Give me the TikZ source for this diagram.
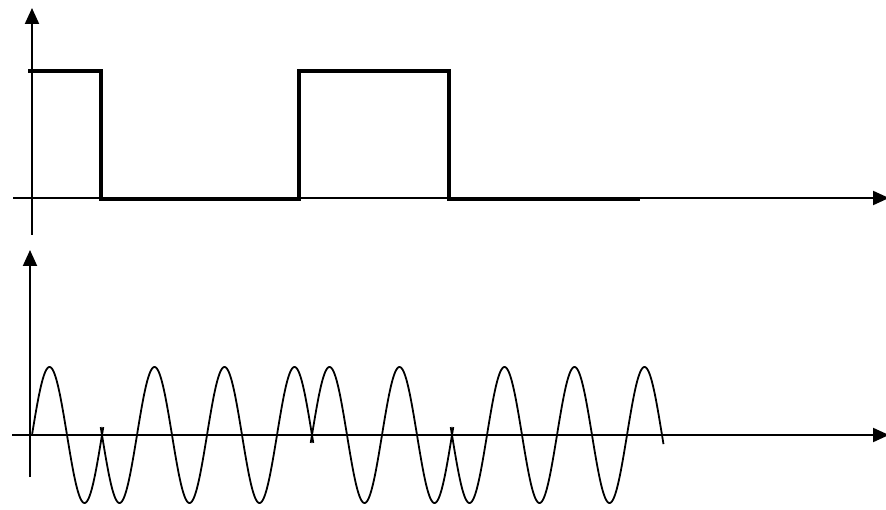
\documentclass[tikz,border=0pt]{standalone}
\usetikzlibrary{arrows.meta}
\begin{document}
\begin{tikzpicture}[x=1pt,y=-1pt,
  axisline/.style={line width=2pt,-{Triangle[width=14pt,length=16pt]}},
  sqline/.style={line width=4.2pt,line join=miter},
  waveline/.style={line width=1.8pt}]
\useasboundingbox (0,0) rectangle (886,510);
% top axes
\coordinate (tyb) at (32,235);
\coordinate (tyt) at (32,8);
\coordinate (txl) at (13,198);
\coordinate (txr) at (889,198);
\draw[axisline] (tyb) -- (tyt);
\draw[axisline] (txl) -- (txr);
% square wave
\draw[sqline] (28,71) -- (101,71) -- (101,199) -- (299,199) -- (299,71) -- (449,71) -- (449,199) -- (640,199);
% bottom axes
\coordinate (byb) at (30,477);
\coordinate (byt) at (30,250);
\coordinate (bxl) at (12,435);
\coordinate (bxr) at (889,435);
\draw[axisline] (byb) -- (byt);
\draw[axisline] (bxl) -- (bxr);
% PSK wave
\draw[waveline] plot[domain=32:103.3,samples=80] (\x,{435-68*sin((\x-32)/70*360)});
\draw[waveline] plot[domain=100.7:313.3,samples=220] (\x,{435+68*sin((\x-32)/70*360)});
\draw[waveline] plot[domain=310.7:453.3,samples=150] (\x,{435-68*sin((\x-32)/70*360)});
\draw[waveline] plot[domain=450.7:663.5,samples=220] (\x,{435+68*sin((\x-32)/70*360)});
\end{tikzpicture}
\end{document}
